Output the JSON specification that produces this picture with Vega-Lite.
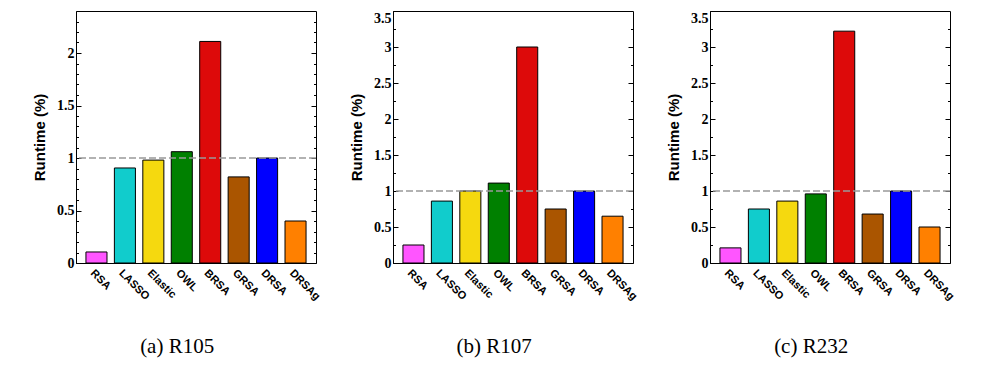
{
  "$schema": "https://vega.github.io/schema/vega-lite/v6.json",
  "padding": {"left": 32, "top": 10, "right": 5, "bottom": 5},
  "spacing": 26,
  "background": "white",
  "config": {
    "view": {"stroke": "black", "strokeWidth": 1},
    "axis": {"domainColor": "black", "tickColor": "black", "labelColor": "black", "titleColor": "black", "grid": false, "domainWidth": 1, "tickWidth": 1}
  },
  "datasets": {
    "r105": [
      {"method": "RSA", "runtime": 0.105},
      {"method": "LASSO", "runtime": 0.905},
      {"method": "Elastic", "runtime": 0.98},
      {"method": "OWL", "runtime": 1.06},
      {"method": "BRSA", "runtime": 2.11},
      {"method": "GRSA", "runtime": 0.82},
      {"method": "DRSA", "runtime": 1.0},
      {"method": "DRSAg", "runtime": 0.4}
    ],
    "r107": [
      {"method": "RSA", "runtime": 0.25},
      {"method": "LASSO", "runtime": 0.86},
      {"method": "Elastic", "runtime": 1.0},
      {"method": "OWL", "runtime": 1.11},
      {"method": "BRSA", "runtime": 3.0},
      {"method": "GRSA", "runtime": 0.75},
      {"method": "DRSA", "runtime": 1.0},
      {"method": "DRSAg", "runtime": 0.65}
    ],
    "r232": [
      {"method": "RSA", "runtime": 0.21},
      {"method": "LASSO", "runtime": 0.75},
      {"method": "Elastic", "runtime": 0.86},
      {"method": "OWL", "runtime": 0.96},
      {"method": "BRSA", "runtime": 3.22},
      {"method": "GRSA", "runtime": 0.68},
      {"method": "DRSA", "runtime": 1.0},
      {"method": "DRSAg", "runtime": 0.5}
    ],
    "ref": [{"ref": 1}]
  },
  "hconcat": [
    {
      "width": 240, "height": 252,
      "title": {"text": "(a) R105", "orient": "bottom", "frame": "bounds", "anchor": "middle", "font": "Liberation Serif", "fontSize": 21, "fontWeight": "normal", "offset": 34, "color": "black"},
      "layer": [
        {
          "data": {"name": "r105"},
          "mark": {"type": "bar", "stroke": "black", "strokeWidth": 1},
          "encoding": {
            "x": {"field": "method", "type": "nominal", "sort": null, "scale": {"paddingInner": 0.26, "paddingOuter": 0.35},
              "axis": {"title": null, "ticks": false, "labelAngle": 45, "labelAlign": "left", "labelBaseline": "top", "labelFont": "Liberation Sans", "labelFontWeight": "bold", "labelFontSize": 11, "labelPadding": 4}},
            "y": {"field": "runtime", "type": "quantitative", "scale": {"domain": [0, 2.4], "nice": false, "zero": true},
              "axis": {"orient": "left", "values": [0, 0.1, 0.2, 0.3, 0.4, 0.5, 0.6, 0.7, 0.8, 0.9, 1, 1.1, 1.2, 1.3, 1.4, 1.5, 1.6, 1.7, 1.8, 1.9, 2, 2.1, 2.2, 2.3],
                "labelExpr": "indexof([0, 0.5, 1, 1.5, 2], datum.value) >= 0 ? datum.label : ''", "format": "~g",
                "tickSize": {"condition": {"test": "indexof([0, 0.5, 1, 1.5, 2], datum.value) >= 0", "value": -5}, "value": -2.5},
                "labelPadding": 7, "labelFont": "Liberation Serif", "labelFontWeight": "bold", "labelFontSize": 14, "labelOverlap": false,
                "title": "Runtime (%)", "titleFont": "Liberation Sans", "titleFontWeight": "bold", "titleFontSize": 15, "titlePadding": 9}},
            "color": {"field": "method", "type": "nominal", "legend": null,
              "scale": {"domain": ["RSA", "LASSO", "Elastic", "OWL", "BRSA", "GRSA", "DRSA", "DRSAg"], "range": ["#ff55ff", "#11cccc", "#f5d90f", "#008000", "#dd0a0a", "#aa5500", "#0000ff", "#ff8000"]}}
          }
        },
        {
          "data": {"name": "ref"},
          "mark": {"type": "rule", "color": "#999999", "strokeDash": [7, 3], "strokeWidth": 1.5},
          "encoding": {"y": {"field": "ref", "type": "quantitative", "scale": {"domain": [0, 2.4], "nice": false, "zero": true},
            "axis": {"orient": "right", "values": [0.1, 0.2, 0.3, 0.4, 0.5, 0.6, 0.7, 0.8, 0.9, 1, 1.1, 1.2, 1.3, 1.4, 1.5, 1.6, 1.7, 1.8, 1.9, 2, 2.1, 2.2, 2.3],
              "labels": false, "domain": false, "title": null,
              "tickSize": {"condition": {"test": "indexof([0, 0.5, 1, 1.5, 2], datum.value) >= 0", "value": -5}, "value": -2.5}}}}
        }
      ],
      "resolve": {"scale": {"y": "independent"}}
    },
    {
      "width": 240, "height": 252,
      "title": {"text": "(b) R107", "orient": "bottom", "frame": "bounds", "anchor": "middle", "font": "Liberation Serif", "fontSize": 21, "fontWeight": "normal", "offset": 34, "color": "black"},
      "layer": [
        {
          "data": {"name": "r107"},
          "mark": {"type": "bar", "stroke": "black", "strokeWidth": 1},
          "encoding": {
            "x": {"field": "method", "type": "nominal", "sort": null, "scale": {"paddingInner": 0.26, "paddingOuter": 0.35},
              "axis": {"title": null, "ticks": false, "labelAngle": 45, "labelAlign": "left", "labelBaseline": "top", "labelFont": "Liberation Sans", "labelFontWeight": "bold", "labelFontSize": 11, "labelPadding": 4}},
            "y": {"field": "runtime", "type": "quantitative", "scale": {"domain": [0, 3.5], "nice": false, "zero": true},
              "axis": {"orient": "left", "values": [0, 0.25, 0.5, 0.75, 1, 1.25, 1.5, 1.75, 2, 2.25, 2.5, 2.75, 3, 3.25, 3.5],
                "labelExpr": "indexof([0, 0.5, 1, 1.5, 2, 2.5, 3, 3.5], datum.value) >= 0 ? datum.label : ''", "format": "~g",
                "tickSize": {"condition": {"test": "indexof([0, 0.5, 1, 1.5, 2, 2.5, 3, 3.5], datum.value) >= 0", "value": -5}, "value": -2.5},
                "labelBaseline": {"condition": {"test": "datum.value === 3.5", "value": "top"}, "value": "middle"},
                "labelPadding": 7, "labelFont": "Liberation Serif", "labelFontWeight": "bold", "labelFontSize": 14, "labelOverlap": false,
                "title": "Runtime (%)", "titleFont": "Liberation Sans", "titleFontWeight": "bold", "titleFontSize": 15, "titlePadding": 9}},
            "color": {"field": "method", "type": "nominal", "legend": null,
              "scale": {"domain": ["RSA", "LASSO", "Elastic", "OWL", "BRSA", "GRSA", "DRSA", "DRSAg"], "range": ["#ff55ff", "#11cccc", "#f5d90f", "#008000", "#dd0a0a", "#aa5500", "#0000ff", "#ff8000"]}}
          }
        },
        {
          "data": {"name": "ref"},
          "mark": {"type": "rule", "color": "#999999", "strokeDash": [7, 3], "strokeWidth": 1.5},
          "encoding": {"y": {"field": "ref", "type": "quantitative", "scale": {"domain": [0, 3.5], "nice": false, "zero": true},
            "axis": {"orient": "right", "values": [0.25, 0.5, 0.75, 1, 1.25, 1.5, 1.75, 2, 2.25, 2.5, 2.75, 3, 3.25],
              "labels": false, "domain": false, "title": null,
              "tickSize": {"condition": {"test": "indexof([0, 0.5, 1, 1.5, 2, 2.5, 3, 3.5], datum.value) >= 0", "value": -5}, "value": -2.5}}}}
        }
      ],
      "resolve": {"scale": {"y": "independent"}}
    },
    {
      "width": 240, "height": 252,
      "title": {"text": "(c) R232", "orient": "bottom", "frame": "bounds", "anchor": "middle", "font": "Liberation Serif", "fontSize": 21, "fontWeight": "normal", "offset": 34, "color": "black"},
      "layer": [
        {
          "data": {"name": "r232"},
          "mark": {"type": "bar", "stroke": "black", "strokeWidth": 1},
          "encoding": {
            "x": {"field": "method", "type": "nominal", "sort": null, "scale": {"paddingInner": 0.26, "paddingOuter": 0.35},
              "axis": {"title": null, "ticks": false, "labelAngle": 45, "labelAlign": "left", "labelBaseline": "top", "labelFont": "Liberation Sans", "labelFontWeight": "bold", "labelFontSize": 11, "labelPadding": 4}},
            "y": {"field": "runtime", "type": "quantitative", "scale": {"domain": [0, 3.5], "nice": false, "zero": true},
              "axis": {"orient": "left", "values": [0, 0.25, 0.5, 0.75, 1, 1.25, 1.5, 1.75, 2, 2.25, 2.5, 2.75, 3, 3.25, 3.5],
                "labelExpr": "indexof([0, 0.5, 1, 1.5, 2, 2.5, 3, 3.5], datum.value) >= 0 ? datum.label : ''", "format": "~g",
                "tickSize": {"condition": {"test": "indexof([0, 0.5, 1, 1.5, 2, 2.5, 3, 3.5], datum.value) >= 0", "value": -5}, "value": -2.5},
                "labelBaseline": {"condition": {"test": "datum.value === 3.5", "value": "top"}, "value": "middle"},
                "labelPadding": 7, "labelFont": "Liberation Serif", "labelFontWeight": "bold", "labelFontSize": 14, "labelOverlap": false,
                "title": "Runtime (%)", "titleFont": "Liberation Sans", "titleFontWeight": "bold", "titleFontSize": 15, "titlePadding": 9}},
            "color": {"field": "method", "type": "nominal", "legend": null,
              "scale": {"domain": ["RSA", "LASSO", "Elastic", "OWL", "BRSA", "GRSA", "DRSA", "DRSAg"], "range": ["#ff55ff", "#11cccc", "#f5d90f", "#008000", "#dd0a0a", "#aa5500", "#0000ff", "#ff8000"]}}
          }
        },
        {
          "data": {"name": "ref"},
          "mark": {"type": "rule", "color": "#999999", "strokeDash": [7, 3], "strokeWidth": 1.5},
          "encoding": {"y": {"field": "ref", "type": "quantitative", "scale": {"domain": [0, 3.5], "nice": false, "zero": true},
            "axis": {"orient": "right", "values": [0.25, 0.5, 0.75, 1, 1.25, 1.5, 1.75, 2, 2.25, 2.5, 2.75, 3, 3.25],
              "labels": false, "domain": false, "title": null,
              "tickSize": {"condition": {"test": "indexof([0, 0.5, 1, 1.5, 2, 2.5, 3, 3.5], datum.value) >= 0", "value": -5}, "value": -2.5}}}}
        }
      ],
      "resolve": {"scale": {"y": "independent"}}
    }
  ]
}
